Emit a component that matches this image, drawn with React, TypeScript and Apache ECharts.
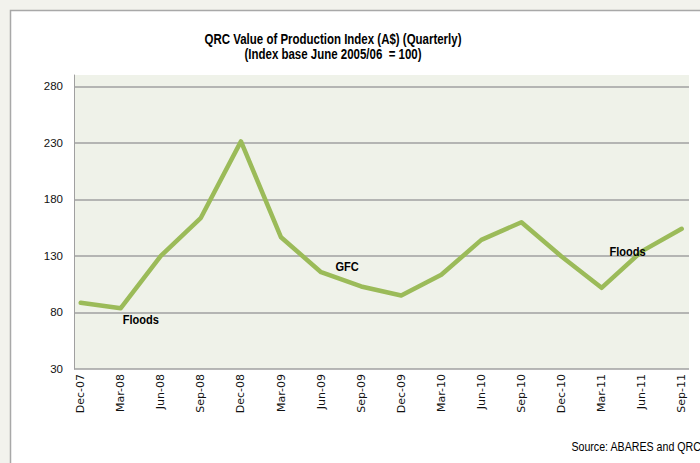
import React, { useEffect, useRef } from "react";
import * as echarts from "echarts";

const categories = [
  "Dec-07", "Mar-08", "Jun-08", "Sep-08", "Dec-08", "Mar-09", "Jun-09", "Sep-09",
  "Dec-09", "Mar-10", "Jun-10", "Sep-10", "Dec-10", "Mar-11", "Jun-11", "Sep-11",
];
const indexValues = [88.6, 83.8, 130, 163.7, 231.3, 146.5, 115.6, 103, 95, 113.3, 144.2, 159.8, 129.5, 101.8, 134, 154];
const yTicks = { min: 30, max: 290, interval: 50 };
const annotations = [
  { text: "Floods", category: "Mar-08", value: 83.8, offset: [20, 11.5] },
  { text: "GFC", category: "Jun-09", value: 115.6, offset: [26, -6] },
  { text: "Floods", category: "Jun-11", value: 134, offset: [-14, 0] },
];
const titleLines = ["QRC Value of Production Index (A$) (Quarterly)", "(Index base June 2005/06  = 100)"];
const sourceText = "Source: ABARES and QRC";

const SANS = "'Liberation Sans', Arial, sans-serif";
const NARROW_SCALE = 0.82;

export default function App() {
  const ref = useRef<HTMLDivElement>(null);
  useEffect(() => {
    if (!ref.current) return;
    const chart = echarts.init(ref.current, undefined, { renderer: "svg" });
    const baseGraphic: any[] = [
      {
        id: "panel",
        type: "rect",
        z: -10,
        shape: { x: 10.5, y: 10.5, width: 720, height: 480 },
        style: { fill: "#ffffff", stroke: "#a8a8a8", lineWidth: 1.5 },
        silent: true,
      },
      ...titleLines.map((t, i) => ({
        id: "title" + i,
        type: "text",
        x: 333,
        y: 39 + i * 15,
        scaleX: NARROW_SCALE,
        style: {
          text: t,
          x: 0,
          y: 0,
          font: `bold 14px ${SANS}`,
          fill: "#000",
          align: "center",
          verticalAlign: "middle",
        },
      })),
      {
        id: "source",
        type: "text",
        x: 701,
        y: 447,
        scaleX: NARROW_SCALE,
        style: {
          text: sourceText,
          x: 0,
          y: 0,
          font: `13px ${SANS}`,
          fill: "#000",
          align: "right",
          verticalAlign: "middle",
        },
      },
    ];
    chart.setOption({
      animation: false,
      backgroundColor: "#f2f2ed",
      graphic: baseGraphic,
      grid: [
        {
          left: 74,
          right: 11,
          top: 75,
          bottom: 94,
          show: true,
          backgroundColor: "#eff2e9",
          borderWidth: 0,
        },
        { left: 80.7, right: 18.3, top: 75, bottom: 94 },
      ],
      xAxis: [
        { type: "value", gridIndex: 0, show: false, min: 0, max: 1 },
        {
          type: "category",
          gridIndex: 1,
          data: categories,
          boundaryGap: false,
          axisLine: { show: false },
          axisTick: { show: false },
          splitLine: { show: false },
          axisLabel: {
            rotate: 90,
            margin: 5,
            fontSize: 11,
            fontFamily: "'DejaVu Sans', sans-serif",
            color: "#111",
            interval: 0,
          },
        },
      ],
      yAxis: [
        {
          type: "value",
          gridIndex: 0,
          min: yTicks.min,
          max: yTicks.max,
          interval: yTicks.interval,
          axisLine: { show: true, lineStyle: { color: "#a0a0a0", width: 1 } },
          axisTick: { show: false },
          axisLabel: {
            showMaxLabel: false,
            margin: 11,
            fontSize: 11.5,
            fontFamily: SANS,
            color: "#111",
          },
          splitLine: { show: true, showMaxLine: false, lineStyle: { color: "#a0a0a0", width: 1.5 } },
        },
        { type: "value", gridIndex: 1, min: yTicks.min, max: yTicks.max, show: false },
      ],
      series: [
        {
          type: "line",
          xAxisIndex: 1,
          yAxisIndex: 1,
          data: indexValues,
          symbol: "none",
          lineStyle: { color: "#9bbb59", width: 4.5, cap: "round", join: "round" },
        },
      ],
    });
    const annGraphic = annotations.map((a, i) => {
      const p = chart.convertToPixel({ xAxisIndex: 1, yAxisIndex: 1 }, [a.category, a.value]) as number[];
      return {
        id: "ann" + i,
        type: "text",
        z: 100,
        x: p[0] + a.offset[0],
        y: p[1] + a.offset[1],
        scaleX: NARROW_SCALE,
        style: {
          text: a.text,
          x: 0,
          y: 0,
          font: `bold 13.5px ${SANS}`,
          fill: "#000",
          align: "center",
          verticalAlign: "middle",
        },
      };
    });
    chart.setOption({ graphic: [...baseGraphic, ...annGraphic] });
    return () => chart.dispose();
  }, []);
  return (
    <div
      ref={ref}
      style={{ position: "fixed", left: 0, top: 0, width: 700, height: 463 }}
    />
  );
}
